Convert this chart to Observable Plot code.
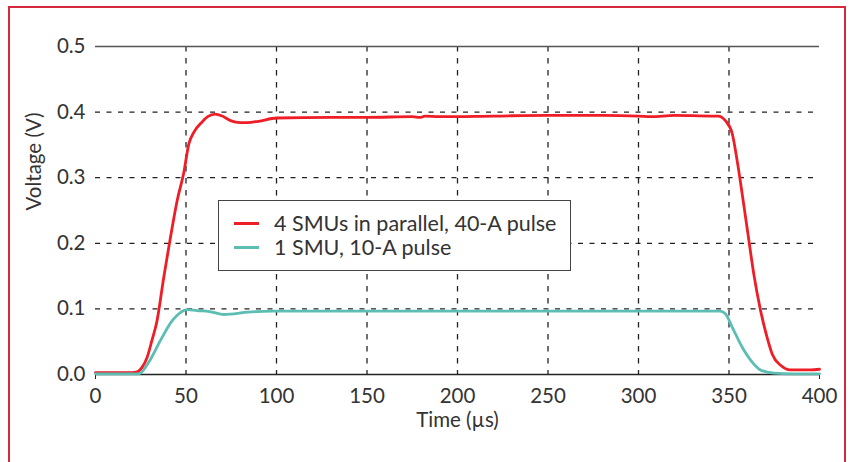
<!DOCTYPE html>
<html>
<head>
<meta charset="utf-8">
<script src="https://cdn.jsdelivr.net/npm/d3@7"></script>
<script src="https://cdn.jsdelivr.net/npm/@observablehq/plot@0.6"></script>
<style>
  html, body { margin: 0; padding: 0; background: #fff; }
  #wrap { position: relative; width: 850px; height: 462px; overflow: hidden; font-family: Lato, "Open Sans", sans-serif; }
  #frame { position: absolute; left: 8px; top: 6px; width: 838px; height: 470px; border: 2px solid #d42a3c; box-sizing: border-box; pointer-events: none; }
  #chart { position: absolute; left: 0; top: 0; }
  #legend { position: absolute; left: 218px; top: 200px; width: 353px; height: 71px; box-sizing: border-box; border: 1.5px solid #444; background: #fff; color: #333; font-size: 21.5px; font-weight: 400; }
  .item { position: absolute; left: 15px; display: flex; align-items: center; height: 24px; }
  .sw { width: 25px; height: 3px; margin-right: 15px; }
</style>
</head>
<body>
<div id="wrap">
  <div id="chart"></div>
  <div id="legend"></div>
  <div id="frame"></div>
</div>
<script>
// Series: 4 SMUs in parallel, 40-A pulse
const redT = [0, 10, 20, 23, 26, 28.5, 31, 34, 37.7, 41.4, 45.1, 48.8, 51.6, 54.3, 58.9, 62, 66.3, 70, 74.6, 80, 84, 90, 100, 130, 150, 175, 179.5, 182, 190, 220, 250, 280, 300, 307, 320, 340, 344, 348, 351.8, 354.5, 357.3, 361, 363.7, 367.4, 371, 373.9, 378.5, 384, 389.5, 395, 400];
const redV = [0.003, 0.003, 0.003, 0.004, 0.012, 0.026, 0.05, 0.082, 0.148, 0.209, 0.265, 0.308, 0.352, 0.369, 0.385, 0.393, 0.397, 0.394, 0.387, 0.384, 0.384, 0.386, 0.391, 0.392, 0.392, 0.393, 0.392, 0.394, 0.393, 0.394, 0.395, 0.395, 0.394, 0.393, 0.395, 0.394, 0.394, 0.387, 0.367, 0.326, 0.275, 0.204, 0.153, 0.098, 0.057, 0.031, 0.014, 0.007, 0.007, 0.007, 0.008];
// Series: 1 SMU, 10-A pulse
const tealT = [0, 10, 20, 24, 29.5, 35.9, 42.4, 45, 50.7, 56, 63, 71, 74.6, 84, 98, 150, 200, 250, 300, 345, 348, 351.8, 357.3, 362.8, 367.4, 374.8, 385, 400];
const tealV = [0.001, 0.001, 0.001, 0.001, 0.019, 0.052, 0.082, 0.09, 0.099, 0.0975, 0.096, 0.0915, 0.092, 0.095, 0.0965, 0.0965, 0.0965, 0.0965, 0.0965, 0.0965, 0.0925, 0.072, 0.0416, 0.019, 0.007, 0.002, 0.001, 0.001];
const seriesNames = ["4 SMUs in parallel, 40-A pulse", "1 SMU, 10-A pulse"];
const seriesColors = ["#ee1d26", "#5cbdb2"];
const xTicks = [0, 50, 100, 150, 200, 250, 300, 350, 400];
const yTicks = [0.0, 0.1, 0.2, 0.3, 0.4, 0.5];
const xGrid = [50, 100, 150, 200, 250, 300, 350];
const yGrid = [0.1, 0.2, 0.3, 0.4];
const xLabel = "Time (µs)";
const yLabel = "Voltage (V)";

const red = redT.map((t, i) => ({t, v: redV[i]}));
const teal = tealT.map((t, i) => ({t, v: tealV[i]}));

const chart = Plot.plot({
  width: 850,
  height: 462,
  marginLeft: 95,
  marginRight: 31,
  marginTop: 46,
  marginBottom: 88,
  style: {fontFamily: "Lato, 'Open Sans', sans-serif", fontSize: "20px", fontWeight: 400, color: "#333", background: "transparent"},
  x: {domain: [0, 400]},
  y: {domain: [0, 0.5]},
  marks: [
    Plot.ruleX(xGrid, {stroke: "#222", strokeWidth: 1.3, strokeDasharray: "5.5,6.5"}),
    Plot.ruleY(yGrid, {stroke: "#222", strokeWidth: 1.3, strokeDasharray: "5,6.5"}),
    Plot.ruleY([0.5], {stroke: "#555", strokeWidth: 1.6}),
    Plot.ruleY([0], {stroke: "#222", strokeWidth: 1.6}),
    Plot.axisX({ticks: [0, 400], tickSize: 5, text: null, stroke: "#222", label: null}),
    Plot.axisX({ticks: xTicks, tickSize: 0, tickPadding: 14, tickFormat: d => String(d), fill: "#333", label: null, fontSize: 20.5}),
    Plot.axisY({ticks: yTicks, tickSize: 0, tickPadding: 10, tickFormat: d => d.toFixed(1), fill: "#333", label: null, fontSize: 20.5}),
    Plot.text([xLabel], {frameAnchor: "bottom", dy: 52, fill: "#333", fontSize: 20.5}),
    Plot.text([yLabel], {frameAnchor: "left", rotate: -90, dx: -61, fill: "#333", fontSize: 20.5}),
    Plot.line(red, {x: "t", y: "v", stroke: seriesColors[0], strokeWidth: 2.8, curve: "monotone-x"}),
    Plot.line(teal, {x: "t", y: "v", stroke: seriesColors[1], strokeWidth: 2.8, curve: "monotone-x"})
  ]
});
document.getElementById("chart").appendChild(chart);

const legend = document.getElementById("legend");
seriesNames.forEach((name, i) => {
  const item = document.createElement("div");
  item.className = "item";
  item.style.top = (10 + i * 24) + "px";
  const sw = document.createElement("span");
  sw.className = "sw";
  sw.style.background = seriesColors[i];
  const tx = document.createElement("span");
  tx.textContent = name;
  item.appendChild(sw);
  item.appendChild(tx);
  legend.appendChild(item);
});
</script>
</body>
</html>
